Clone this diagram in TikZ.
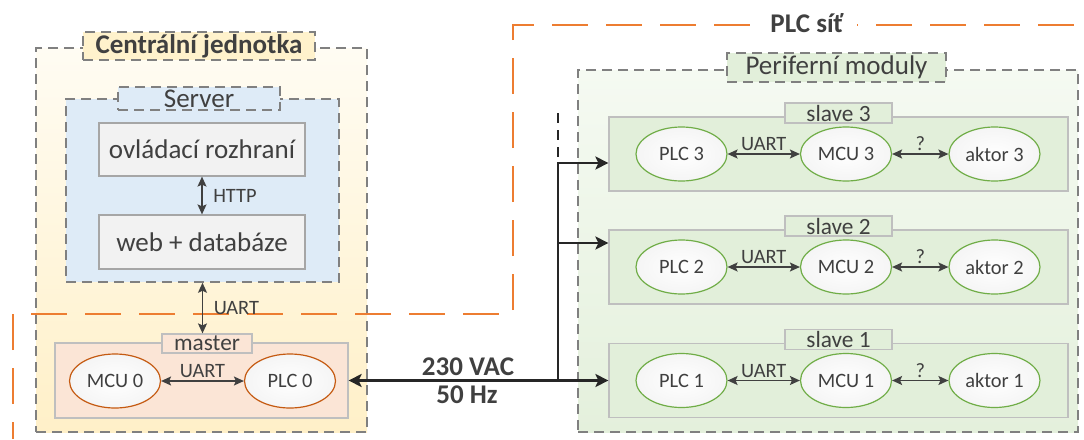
\documentclass[tikz,border=0pt]{standalone}
\usepackage{fontspec}
\setmainfont{Carlito}
\usetikzlibrary{arrows.meta,shapes.geometric}
\definecolor{txtgray}{HTML}{404040}
\definecolor{netorange}{HTML}{ED7D31}
\definecolor{mcuorange}{HTML}{C55A11}
\definecolor{slvgreen}{HTML}{70AD47}
\definecolor{centtop}{HTML}{FFFCF3}
\definecolor{centbot}{HTML}{FFF0C8}
\definecolor{centlab}{HTML}{FFF2CC}
\definecolor{srvblue}{HTML}{DEEBF7}
\definecolor{boxgray}{HTML}{F2F2F2}
\definecolor{mastfill}{HTML}{FBE5D6}
\definecolor{pertop}{HTML}{F5FAF2}
\definecolor{perbot}{HTML}{E4F0DC}
\definecolor{slvfill}{HTML}{E2EFDA}
\begin{document}
\begin{tikzpicture}[x=1pt, y=-1pt,
  every node/.style={text=txtgray, inner sep=0pt},
  fbig/.style={font=\fontsize{27}{30}\selectfont},
  fbigb/.style={font=\fontsize{27}{30}\selectfont\bfseries},
  fmid/.style={font=\fontsize{23.3}{26}\selectfont},
  fsmall/.style={font=\fontsize{20.4}{23}\selectfont},
  grp/.style={draw=black!50, line width=1.5pt, dash pattern=on 10pt off 6pt},
  sbox/.style={draw=black!25, line width=1.2pt},
  elli/.style={ellipse, draw, line width=1.2pt, inner color=white, outer color=black!4, minimum width=91pt, minimum height=54pt, fsmall},
  link/.style={{Stealth[length=10pt,width=9pt,inset=2pt]}-{Stealth[length=10pt,width=9pt,inset=2pt]}, line width=1.5pt, draw=txtgray},
  power/.style={line width=2.7pt, draw=black!85},
  lbl/.style={fsmall, inner sep=2.5pt}]
\useasboundingbox (0,0) rectangle (1084,439);

% central unit
\node[grp, top color=centtop, bottom color=centbot, minimum width=331pt, minimum height=384pt] (central) at (201.5,240) {};
\node[grp, line width=1.2pt, fill=centlab, minimum width=232pt, minimum height=28pt, fbigb] (centlab) at (199,46) {Centrální jednotka};
\node[grp, fill=srvblue, minimum width=273pt, minimum height=183pt] (server) at (202.5,190.5) {};
\node[grp, line width=1.2pt, fill=srvblue, minimum width=162pt, minimum height=23pt, fbig] (srvlab) at (199,98.5) {Server};
\node[sbox, draw=black!35, fill=boxgray, minimum width=206pt, minimum height=53pt, fbig] (gui) at (202,149.5) {ovládací rozhraní};
\node[sbox, draw=black!35, fill=boxgray, minimum width=206pt, minimum height=54pt, fbig] (web) at (202,242) {web + databáze};
\draw[link] (gui) -- (web) node[lbl, midway, right=8pt] {HTTP};

% PLC network outline
\draw[netorange, line width=2pt, dash pattern=on 36pt off 18pt, dash phase=19pt] (13,439) -- (13,314) -- (513,314) -- (513,25) -- (1084,25);
\node[fbigb, fill=white, inner xsep=13pt, inner ysep=3pt, anchor=base] (plcnet) at (807,32) {PLC síť};

\node[sbox, fill=mastfill, minimum width=293pt, minimum height=75pt] (master) at (201.5,380.5) {};
\node[sbox, fill=mastfill, minimum width=90pt, minimum height=19pt, fmid] (mlab) at (207,343.5) {master};
\draw[link] (server.south) -- (server.south |- mlab.north) node[lbl, midway, right=8pt] {UART};
\node[elli, draw=mcuorange] (mcu0) at (115,381) {MCU 0};
\node[elli, draw=mcuorange] (plc0) at (290,381) {PLC 0};
\draw[link] (mcu0) -- (plc0) node[lbl, midway, above] {UART};

% peripheral modules
\node[grp, top color=pertop, bottom color=perbot, minimum width=500pt, minimum height=362pt] (perif) at (828,251) {};
\node[grp, line width=1.2pt, fill=slvfill, minimum width=219pt, minimum height=29pt, fbig] (perlab) at (836.5,67.5) {Periferní moduly};
\foreach \i/\y in {1/380.5, 2/267, 3/154} {
  \node[sbox, fill=slvfill, minimum width=459pt, minimum height=74pt] (s\i) at (838.5,\y) {};
  \node[sbox, fill=slvfill, minimum width=107pt, minimum height=20pt, fmid] (sl\i) at (838.5,\y-41) {slave \i};
  \node[elli, draw=slvgreen] (plc\i) at (681.5,\y) {PLC \i};
  \node[elli, draw=slvgreen] (mcu\i) at (846,\y) {MCU \i};
  \node[elli, draw=slvgreen] (akt\i) at (994.5,\y) {aktor \i};
  \draw[link] (plc\i) -- (mcu\i) node[lbl, midway, above] {UART};
  \draw[link] (mcu\i) -- (akt\i) node[lbl, midway, above] {?};
}

% power line
\coordinate (bus1) at (558,380.5);
\coordinate (bus2) at (558,243);
\coordinate (bus3) at (558,163);
\coordinate (busend) at (558,113);
\draw[power, {Stealth[length=13pt,width=13pt,inset=3pt]}-{Stealth[length=13pt,width=13pt,inset=3pt]}] (master.east) -- (s1.west);
\draw[power, -{Stealth[length=13pt,width=13pt,inset=3pt]}] (bus1) -- (bus3) -- (bus3 -| s3.west);
\draw[power, -{Stealth[length=13pt,width=13pt,inset=3pt]}] (bus2) -- (bus2 -| s2.west);
\draw[power, dash pattern=on 10pt off 7pt] (busend) -- (bus3);
\node[fbigb, anchor=base] (vac) at (468,375) {230 VAC};
\node[fbigb, anchor=base] (hz) at (467,403) {50 Hz};
\end{tikzpicture}
\end{document}
